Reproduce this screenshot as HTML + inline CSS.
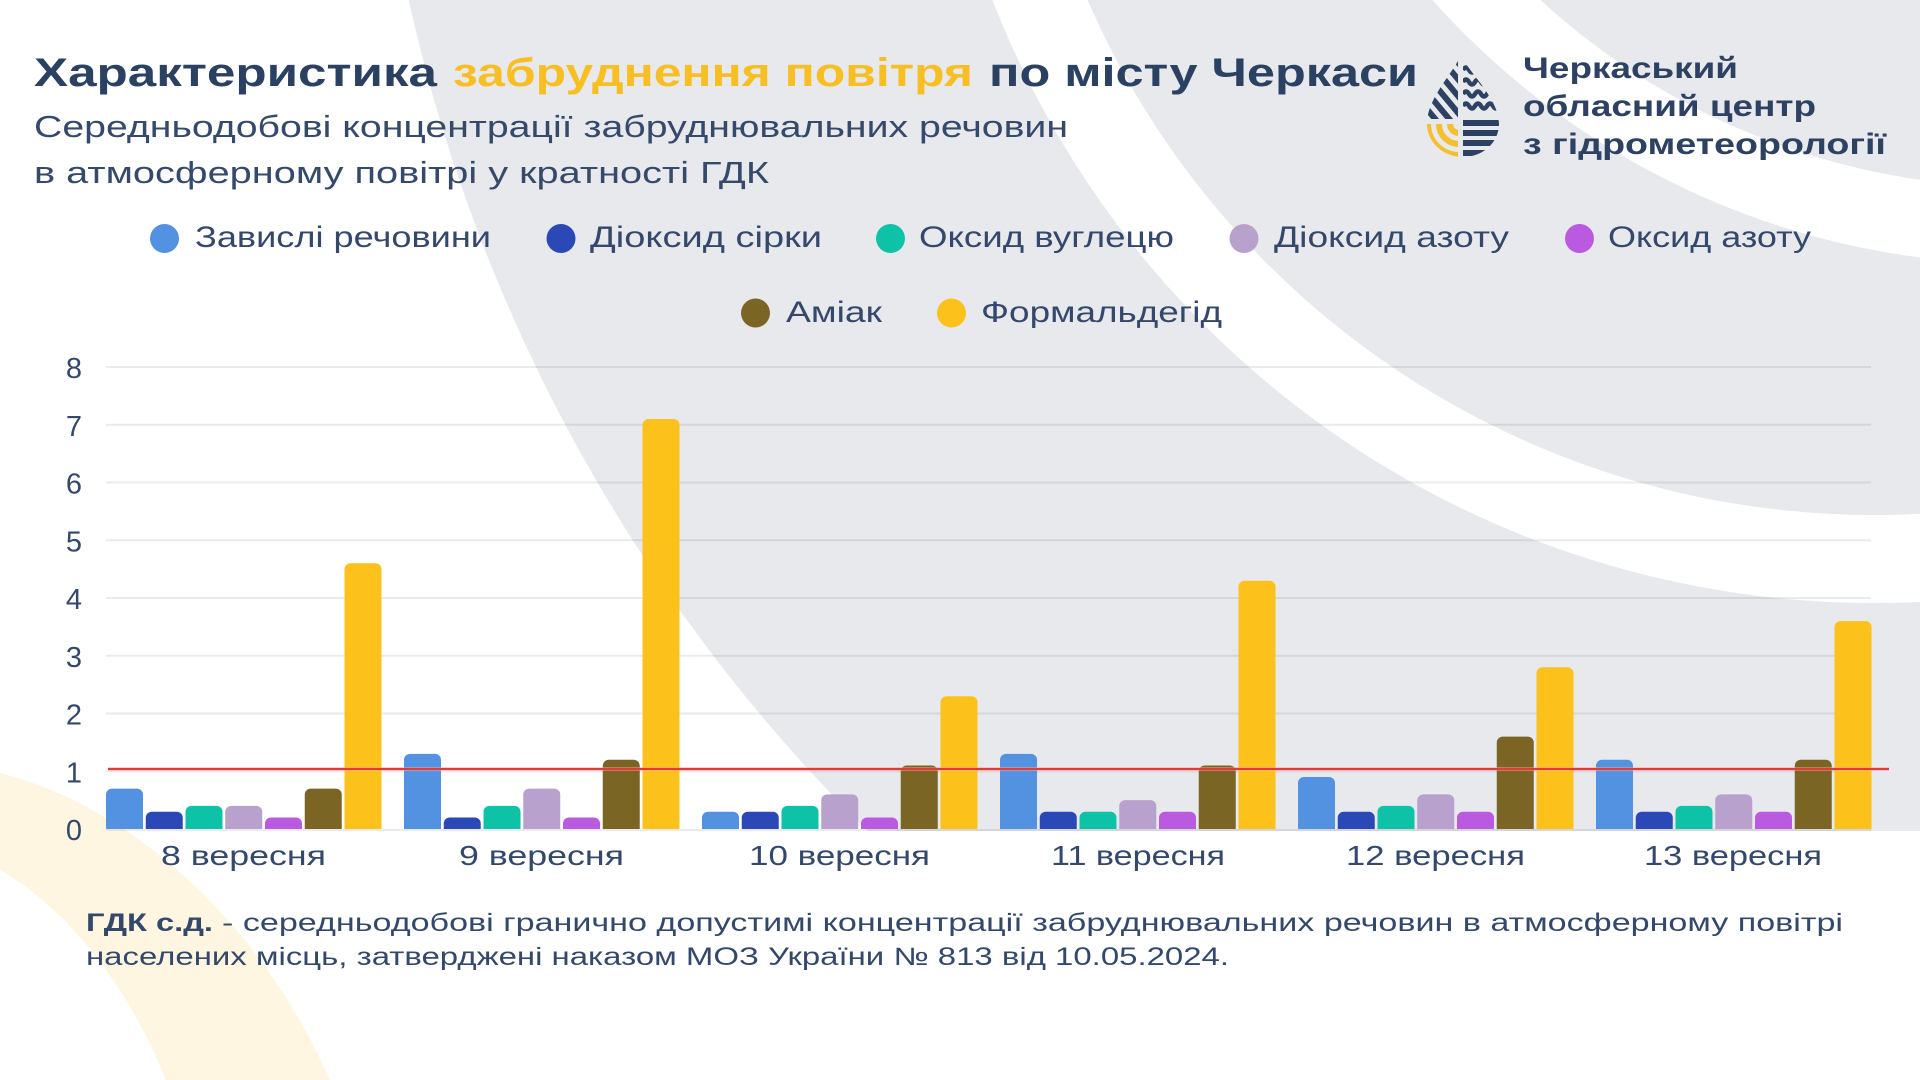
<!DOCTYPE html>
<html>
<head>
<meta charset="utf-8">
<style>
html,body{margin:0;padding:0;width:1920px;height:1080px;overflow:hidden;background:#fff}
svg{display:block}
</style>
</head>
<body>
<svg width="1920" height="1080" viewBox="0 0 1920 1080" xmlns="http://www.w3.org/2000/svg" font-family="'Liberation Sans', 'Noto Sans CJK SC', sans-serif">
<defs>
  <clipPath id="barclip"><rect x="0" y="0" width="1920" height="829"/></clipPath>
  <clipPath id="drop"><path d="M1461,55 C1468,72 1499,98 1499,124 A36,33 0 0 1 1427,124 C1427,98 1454,72 1461,55 Z"/></clipPath>
  <clipPath id="ul"><rect x="1420" y="50" width="38" height="69"/></clipPath>
  <clipPath id="ll"><rect x="1420" y="119" width="38" height="45"/></clipPath>
  <clipPath id="ur"><rect x="1463" y="50" width="40" height="68"/></clipPath>
</defs>

<!-- background -->
<rect width="1920" height="1080" fill="#ffffff"/>
<path d="M408.7,0 A1679,1679 0 0 0 867.6,831 L1920,831 L1920,0 Z" fill="#e8e9ed"/>
<path d="M992.4,0 A946,946 0 0 0 1920,601.9 L1920,513.8 A858,858 0 0 1 1087.5,0 Z" fill="#ffffff"/>
<path d="M1432.5,0 A788,788 0 0 0 1920,257.5 L1920,179.8 A711,711 0 0 1 1540.4,0 Z" fill="#ffffff"/>
<path d="M0,773 C110,800 250,900 330,1080 L166,1080 C130,990 70,910 0,870 Z" fill="#fef6e1"/>

<!-- title -->
<g font-weight="bold" font-size="40">
  <text x="34" y="86" fill="#2b4162" textLength="403" lengthAdjust="spacingAndGlyphs">Характеристика</text>
  <text x="453" y="86" fill="#f8bf24" textLength="520" lengthAdjust="spacingAndGlyphs">забруднення повітря</text>
  <text x="989" y="86" fill="#2b4162" textLength="429" lengthAdjust="spacingAndGlyphs">по місту Черкаси</text>
</g>
<g font-size="31" fill="#354a6b">
  <text x="34" y="137" textLength="1034" lengthAdjust="spacingAndGlyphs">Середньодобові концентрації забруднювальних речовин</text>
  <text x="34" y="183" textLength="735" lengthAdjust="spacingAndGlyphs">в атмосферному повітрі у кратності ГДК</text>
</g>

<!-- logo -->
<g clip-path="url(#drop)">
  <g clip-path="url(#ul)" stroke="#2d4263" stroke-width="6">
    <line x1="1380" y1="36" x2="1460" y2="132"/>
    <line x1="1394" y1="36" x2="1474" y2="132"/>
    <line x1="1408" y1="36" x2="1488" y2="132"/>
    <line x1="1422" y1="36" x2="1502" y2="132"/>
    <line x1="1436" y1="36" x2="1516" y2="132"/>
    <line x1="1366" y1="36" x2="1446" y2="132"/>
  </g>
  <g clip-path="url(#ll)" fill="none" stroke="#f4c030" stroke-width="6">
    <path d="M1428,124 A31,31 0 0 0 1459,155"/>
    <path d="M1439,124 A20,20 0 0 0 1459,144"/>
    <path d="M1450,124 A9,9 0 0 0 1459,133"/>
  </g>
  <g clip-path="url(#ur)" fill="none" stroke="#2d4263" stroke-width="4.5">
    <path d="M1463,70 q3,-5 6,0 t6,0 t6,0 t6,0 t6,0 t6,0 t6,0"/>
    <path d="M1463,82 q3,-5 6,0 t6,0 t6,0 t6,0 t6,0 t6,0 t6,0"/>
    <path d="M1463,94 q3,-5 6,0 t6,0 t6,0 t6,0 t6,0 t6,0 t6,0"/>
    <path d="M1463,106 q3,-5 6,0 t6,0 t6,0 t6,0 t6,0 t6,0 t6,0"/>
    <path d="M1458,60 L1463,54 L1468,62" stroke-width="5"/>
  </g>
  <g fill="#2d4263">
    <rect x="1463" y="120" width="40" height="6"/>
    <rect x="1463" y="130" width="40" height="6"/>
    <rect x="1463" y="140" width="40" height="6"/>
    <rect x="1463" y="150" width="40" height="6"/>
  </g>
</g>
<g font-weight="bold" font-size="30" fill="#2d4263">
  <text x="1523" y="78" textLength="215" lengthAdjust="spacingAndGlyphs">Черкаський</text>
  <text x="1523" y="116" textLength="293" lengthAdjust="spacingAndGlyphs">обласний центр</text>
  <text x="1523" y="154" textLength="363" lengthAdjust="spacingAndGlyphs">з гідрометеорології</text>
</g>

<!-- legend -->
<g font-size="30" fill="#34486b">
  <circle cx="164.5" cy="238.5" r="14.5" fill="#5392e0"/>
  <text x="195" y="247" textLength="296" lengthAdjust="spacingAndGlyphs">Завислі речовини</text>
  <circle cx="561" cy="238.5" r="14.5" fill="#2a48b6"/>
  <text x="590" y="247" textLength="232" lengthAdjust="spacingAndGlyphs">Діоксид сірки</text>
  <circle cx="890.5" cy="238.5" r="14.5" fill="#0dc2a7"/>
  <text x="919" y="247" textLength="255" lengthAdjust="spacingAndGlyphs">Оксид вуглецю</text>
  <circle cx="1244" cy="238.5" r="14.5" fill="#b9a1cd"/>
  <text x="1274" y="247" textLength="235" lengthAdjust="spacingAndGlyphs">Діоксид азоту</text>
  <circle cx="1579.5" cy="238.5" r="14.5" fill="#ba5ae1"/>
  <text x="1608" y="247" textLength="203" lengthAdjust="spacingAndGlyphs">Оксид азоту</text>
  <circle cx="755.5" cy="313" r="14.5" fill="#7b6524"/>
  <text x="786" y="322" textLength="96" lengthAdjust="spacingAndGlyphs">Аміак</text>
  <circle cx="951.5" cy="313" r="14.5" fill="#fcc11b"/>
  <text x="981" y="322" textLength="241" lengthAdjust="spacingAndGlyphs">Формальдегід</text>
</g>

<!-- gridlines -->
<g stroke="#000" stroke-opacity="0.08" stroke-width="2">
  <line x1="106" y1="367" x2="1871" y2="367"/>
  <line x1="106" y1="424.75" x2="1871" y2="424.75"/>
  <line x1="106" y1="482.5" x2="1871" y2="482.5"/>
  <line x1="106" y1="540.25" x2="1871" y2="540.25"/>
  <line x1="106" y1="598" x2="1871" y2="598"/>
  <line x1="106" y1="655.75" x2="1871" y2="655.75"/>
  <line x1="106" y1="713.5" x2="1871" y2="713.5"/>
  <line x1="106" y1="771.25" x2="1871" y2="771.25"/>
  <line x1="106" y1="830" x2="1871" y2="830"/>
</g>

<!-- y labels -->
<g font-size="29" fill="#34486b" text-anchor="middle">
  <text x="74" y="378">8</text>
  <text x="74" y="435.75">7</text>
  <text x="74" y="493.5">6</text>
  <text x="74" y="551.25">5</text>
  <text x="74" y="609">4</text>
  <text x="74" y="666.75">3</text>
  <text x="74" y="724.5">2</text>
  <text x="74" y="782.25">1</text>
  <text x="74" y="840">0</text>
</g>

<!-- bars -->
<g clip-path="url(#barclip)">
  <rect x="106" y="788.6" width="37" height="50" rx="6" fill="#5392e0"/>
  <rect x="145.75" y="811.7" width="37" height="30" rx="6" fill="#2a48b6"/>
  <rect x="185.5" y="805.9" width="37" height="35" rx="6" fill="#0dc2a7"/>
  <rect x="225.25" y="805.9" width="37" height="35" rx="6" fill="#b9a1cd"/>
  <rect x="265" y="817.45" width="37" height="25" rx="6" fill="#ba5ae1"/>
  <rect x="304.75" y="788.6" width="37" height="50" rx="6" fill="#7b6524"/>
  <rect x="344.5" y="563.3" width="37" height="280" rx="6" fill="#fcc11b"/>

  <rect x="404" y="753.9" width="37" height="85" rx="6" fill="#5392e0"/>
  <rect x="443.75" y="817.45" width="37" height="25" rx="6" fill="#2a48b6"/>
  <rect x="483.5" y="805.9" width="37" height="35" rx="6" fill="#0dc2a7"/>
  <rect x="523.25" y="788.6" width="37" height="50" rx="6" fill="#b9a1cd"/>
  <rect x="563" y="817.45" width="37" height="25" rx="6" fill="#ba5ae1"/>
  <rect x="602.75" y="759.7" width="37" height="80" rx="6" fill="#7b6524"/>
  <rect x="642.5" y="419" width="37" height="420" rx="6" fill="#fcc11b"/>

  <rect x="702" y="811.7" width="37" height="30" rx="6" fill="#5392e0"/>
  <rect x="741.75" y="811.7" width="37" height="30" rx="6" fill="#2a48b6"/>
  <rect x="781.5" y="805.9" width="37" height="35" rx="6" fill="#0dc2a7"/>
  <rect x="821.25" y="794.35" width="37" height="45" rx="6" fill="#b9a1cd"/>
  <rect x="861" y="817.45" width="37" height="25" rx="6" fill="#ba5ae1"/>
  <rect x="900.75" y="765.5" width="37" height="75" rx="6" fill="#7b6524"/>
  <rect x="940.5" y="696.2" width="37" height="145" rx="6" fill="#fcc11b"/>

  <rect x="1000" y="753.9" width="37" height="85" rx="6" fill="#5392e0"/>
  <rect x="1039.75" y="811.7" width="37" height="30" rx="6" fill="#2a48b6"/>
  <rect x="1079.5" y="811.7" width="37" height="30" rx="6" fill="#0dc2a7"/>
  <rect x="1119.25" y="800.1" width="37" height="40" rx="6" fill="#b9a1cd"/>
  <rect x="1159" y="811.7" width="37" height="30" rx="6" fill="#ba5ae1"/>
  <rect x="1198.75" y="765.5" width="37" height="75" rx="6" fill="#7b6524"/>
  <rect x="1238.5" y="580.7" width="37" height="260" rx="6" fill="#fcc11b"/>

  <rect x="1298" y="777" width="37" height="60" rx="6" fill="#5392e0"/>
  <rect x="1337.75" y="811.7" width="37" height="30" rx="6" fill="#2a48b6"/>
  <rect x="1377.5" y="805.9" width="37" height="35" rx="6" fill="#0dc2a7"/>
  <rect x="1417.25" y="794.35" width="37" height="45" rx="6" fill="#b9a1cd"/>
  <rect x="1457" y="811.7" width="37" height="30" rx="6" fill="#ba5ae1"/>
  <rect x="1496.75" y="736.6" width="37" height="100" rx="6" fill="#7b6524"/>
  <rect x="1536.5" y="667.3" width="37" height="170" rx="6" fill="#fcc11b"/>

  <rect x="1596" y="759.7" width="37" height="80" rx="6" fill="#5392e0"/>
  <rect x="1635.75" y="811.7" width="37" height="30" rx="6" fill="#2a48b6"/>
  <rect x="1675.5" y="805.9" width="37" height="35" rx="6" fill="#0dc2a7"/>
  <rect x="1715.25" y="794.35" width="37" height="45" rx="6" fill="#b9a1cd"/>
  <rect x="1755" y="811.7" width="37" height="30" rx="6" fill="#ba5ae1"/>
  <rect x="1794.75" y="759.7" width="37" height="80" rx="6" fill="#7b6524"/>
  <rect x="1834.5" y="621.1" width="37" height="215" rx="6" fill="#fcc11b"/>
</g>

<!-- threshold line -->
<line x1="108" y1="769" x2="1889" y2="769" stroke="#f4a3a0" stroke-width="4" stroke-opacity="0.5"/>
<line x1="108" y1="769" x2="1889" y2="769" stroke="#e53935" stroke-width="2"/>

<!-- x labels -->
<g font-size="28" fill="#34486b">
  <text x="161" y="865" textLength="165" lengthAdjust="spacingAndGlyphs">8 вересня</text>
  <text x="459" y="865" textLength="165" lengthAdjust="spacingAndGlyphs">9 вересня</text>
  <text x="749" y="865" textLength="181" lengthAdjust="spacingAndGlyphs">10 вересня</text>
  <text x="1051" y="865" textLength="174" lengthAdjust="spacingAndGlyphs">11 вересня</text>
  <text x="1346" y="865" textLength="179" lengthAdjust="spacingAndGlyphs">12 вересня</text>
  <text x="1644" y="865" textLength="178" lengthAdjust="spacingAndGlyphs">13 вересня</text>
</g>

<!-- footnote -->
<g font-size="25" fill="#34486b">
  <text x="86" y="931" font-weight="bold" textLength="127" lengthAdjust="spacingAndGlyphs">ГДК с.д.</text>
  <text x="222" y="931" textLength="1621" lengthAdjust="spacingAndGlyphs">- середньодобові гранично допустимі концентрації забруднювальних речовин в атмосферному повітрі</text>
  <text x="86" y="965" textLength="1143" lengthAdjust="spacingAndGlyphs">населених місць, затверджені наказом МОЗ України № 813 від 10.05.2024.</text>
</g>
</svg>
</body>
</html>
